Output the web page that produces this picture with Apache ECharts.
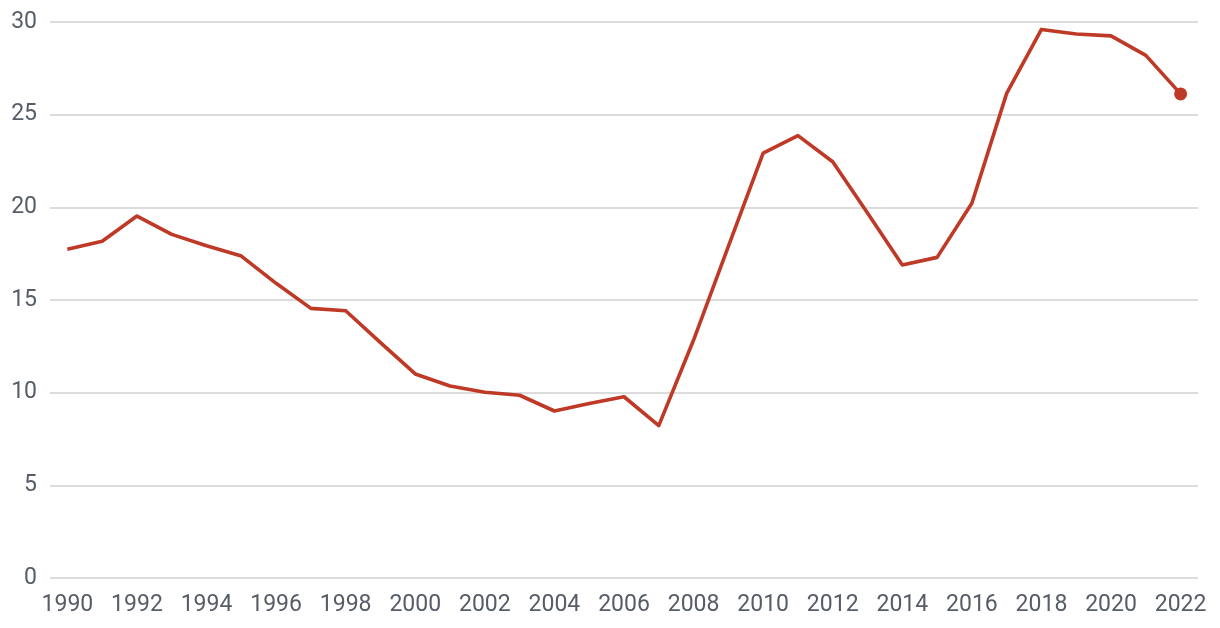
<!DOCTYPE html>
<html>
<head>
<meta charset="utf-8">
<script src="https://cdn.jsdelivr.net/npm/echarts@6/dist/echarts.min.js"></script>
<style>
  html, body { margin: 0; padding: 0; background: #ffffff; }
  #chart { width: 1220px; height: 628px; }
</style>
</head>
<body>
<div id="chart"></div>
<script>
const years = ['1990','1991','1992','1993','1994','1995','1996','1997','1998','1999',
  '2000','2001','2002','2003','2004','2005','2006','2007','2008','2009',
  '2010','2011','2012','2013','2014','2015','2016','2017','2018','2019',
  '2020','2021','2022'];
const values = [17.74, 18.17, 19.53, 18.54, 17.93, 17.37, 15.90, 14.55, 14.42, 12.7,
  11.01, 10.36, 10.02, 9.86, 9.01, 9.41, 9.78, 8.22, 12.84, 17.9,
  22.92, 23.87, 22.46, 19.7, 16.89, 17.30, 20.22, 26.15, 29.60, 29.35,
  29.25, 28.20, 26.12];
const yTicks = [0, 5, 10, 15, 20, 25, 30];

const lineColor = '#bf3a26';
const labelColor = '#565d68';
const fontFamily = 'Roboto, "Noto Sans", sans-serif';

const chart = echarts.init(document.getElementById('chart'), null, { renderer: 'canvas' });
chart.setOption({
  animation: false,
  backgroundColor: '#ffffff',
  grid: { left: 50, right: 22, top: 22, bottom: 50, containLabel: false },
  xAxis: {
    type: 'category',
    data: years,
    boundaryGap: true,
    axisLine: { show: false },
    axisTick: { show: false },
    axisLabel: {
      interval: 1,
      margin: 16,
      color: labelColor,
      fontSize: 23,
      fontFamily: fontFamily
    },
    splitLine: { show: false }
  },
  yAxis: {
    type: 'value',
    min: yTicks[0],
    max: yTicks[yTicks.length - 1],
    interval: 5,
    axisLine: { show: false },
    axisTick: { show: false },
    axisLabel: {
      margin: 13,
      color: labelColor,
      fontSize: 23,
      fontFamily: fontFamily
    },
    splitLine: { lineStyle: { color: '#d0d0d0', width: 1.5 } }
  },
  series: [{
    type: 'line',
    data: values.map((v, i) => i === values.length - 1
      ? { value: v, symbol: 'circle', symbolSize: 13, itemStyle: { color: lineColor } }
      : { value: v, symbol: 'none' }),
    showSymbol: true,
    lineStyle: { color: lineColor, width: 3.6, join: 'round' },
    itemStyle: { color: lineColor },
    emphasis: { disabled: true }
  }]
});
</script>
</body>
</html>
